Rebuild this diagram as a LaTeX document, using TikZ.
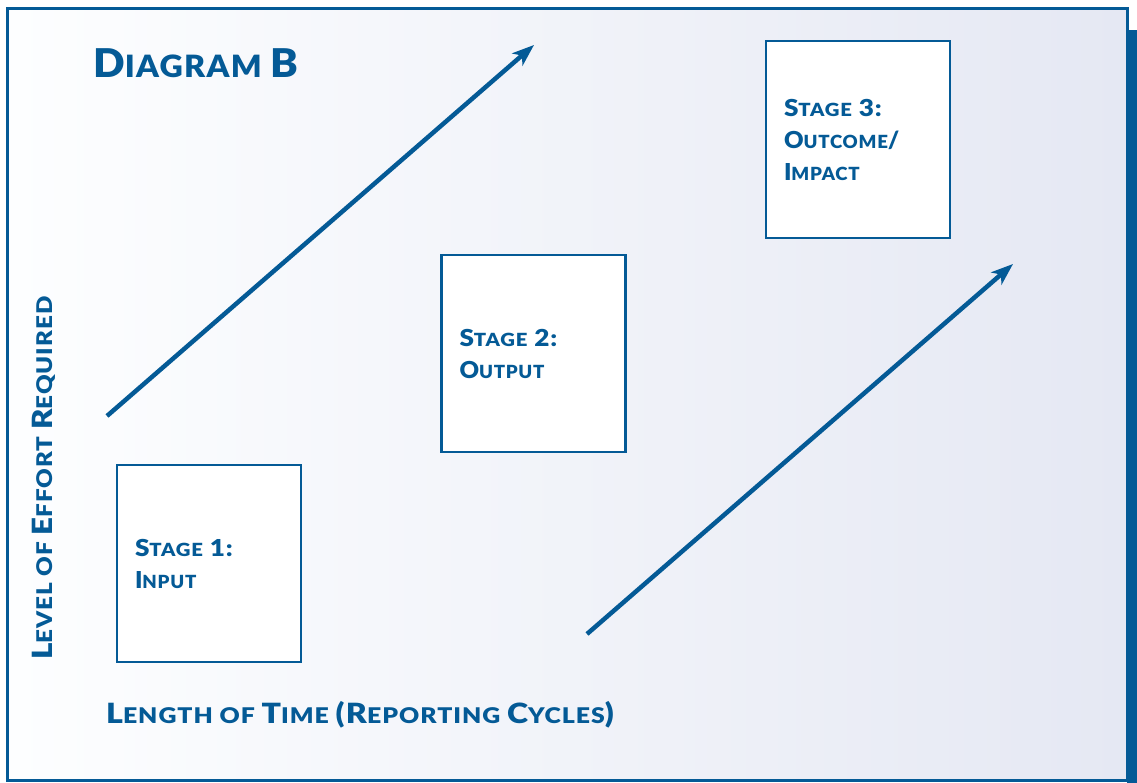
\documentclass[tikz,border=0pt]{standalone}
\usepackage{fontspec}
\usepackage{graphicx}
\setmainfont{Lato}
\newfontfamily\heavy{Lato Black}[LetterSpace=4]
\usetikzlibrary{arrows.meta}

\definecolor{navy}{RGB}{4,90,150}
\definecolor{paleL}{RGB}{253,254,255}
\definecolor{paleR}{RGB}{229,232,243}

% hand-made small caps: capitals drawn larger than the rest
\newcommand\Cap[1]{\scalebox{1.29}{#1}}
% widen a run of text without changing its height
\newcommand\Stretch[2]{\scalebox{#1}[1]{#2}}

\tikzset{
  frame/.style={navy, line width=3pt},
  stagebox/.style={draw=navy, line width=2.5pt, fill=white,
    minimum width=184pt, minimum height=197pt, text width=148pt,
    inner xsep=18pt, inner ysep=0pt, align=left, text=navy,
    font=\heavy\fontsize{18.1}{32}\selectfont},
  axislabel/.style={anchor=base west, inner sep=0pt, text=navy,
    font=\heavy\fontsize{21.6}{26}\selectfont},
  trend/.style={navy, line width=4.5pt,
    -{Stealth[length=22pt,width=16pt,inset=6pt]}},
}

\begin{document}
\begin{tikzpicture}[x=1pt,y=-1pt]
\useasboundingbox (0,0) rectangle (1137,783);

% drop shadow along the right edge and the panel itself
\fill[navy] (1127,30) rectangle (1137,783);
\shade[left color=paleL, right color=paleR] (7,9) rectangle (1127,780);
\draw[frame] (7,9) rectangle (1127,780);

% title
\node[anchor=base west, inner sep=0pt, text=navy,
      font=\heavy\fontsize{30.7}{36}\selectfont] (title) at (93,78)
  {\Stretch{1.05}{\Cap{D}IAGRAM \Cap{B}}};

% rising trend arrows
\coordinate (upA) at (107,416);
\coordinate (upB) at (534,45);
\coordinate (lowA) at (587,634);
\coordinate (lowB) at (1013,264);
\draw[trend] (upA) -- (upB);
\draw[trend] (lowA) -- (lowB);

% the three stages
\node[stagebox] (stage1) at (209,563.5)
  {\Stretch{1.12}{\Cap{S}TAGE \Cap{1:}}\\\Stretch{1.03}{\Cap{I}NPUT}};
\node[stagebox] (stage2) at (533.5,353.5)
  {\Stretch{1.12}{\Cap{S}TAGE \Cap{2:}}\\\Stretch{1.03}{\Cap{O}UTPUT}};
\node[stagebox] (stage3) at (858,139.5)
  {\Stretch{1.12}{\Cap{S}TAGE \Cap{3:}}\\\Stretch{1.03}{\Cap{O}UTCOME\Cap{/}}\\\Stretch{1.03}{\Cap{I}MPACT}};

% axis labels
\node[axislabel, rotate=90] (effort) at (52,660)
  {\Stretch{1.12}{\Cap{L}EVEL OF \Cap{E}FFORT \Cap{R}EQUIRED}};
\node[axislabel] (time) at (106,723)
  {\Stretch{1.15}{\Cap{L}ENGTH OF \Cap{T}IME \Cap{(R}EPORTING \Cap{C}YCLES\Cap{)}}};
\end{tikzpicture}
\end{document}
